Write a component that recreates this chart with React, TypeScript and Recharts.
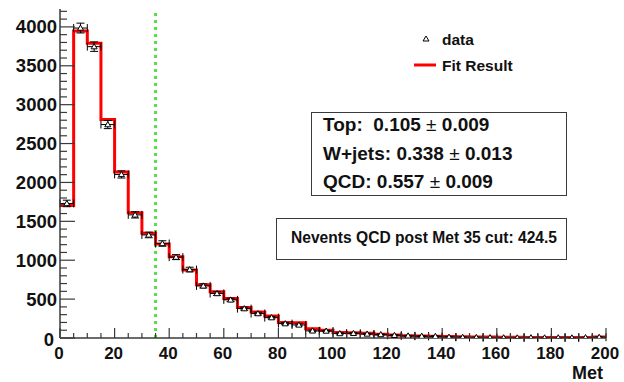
import {
  ComposedChart,
  Line,
  Scatter,
  ErrorBar,
  XAxis,
  YAxis,
  ReferenceLine,
} from 'recharts'

// Met histogram, 40 bins of width 5 from 0 to 200
const BIN_WIDTH = 5
const FIT = [
  1703, 3948, 3789, 2809, 2133, 1609, 1346, 1209, 1045, 873,
  685, 594, 507, 391, 335, 284, 198, 195, 120, 99,
  70, 68, 62, 48, 38, 30, 27, 24, 18, 16,
  14, 12, 10, 9, 8, 7, 6, 6, 5, 14,
]
const DATA = [
  1730, 3985, 3746, 2744, 2103, 1583, 1325, 1215, 1040, 880,
  670, 572, 490, 378, 314, 262, 185, 168, 92, 90,
  58, 60, 52, 45, 35, 28, 24, 22, 12, 10,
  8, 6, 4, 3, 5, 3, 4, 3, 6, 10,
]
const DATA_ERR = [
  42, 63, 61, 52, 46, 40, 36, 35, 32, 30,
  26, 24, 22, 19, 18, 16, 14, 13, 10, 9,
  8, 8, 7, 7, 6, 5, 5, 5, 3, 3,
  3, 2, 2, 2, 2, 2, 2, 2, 2, 3,
]
const Y_MAJOR = [0, 500, 1000, 1500, 2000, 2500, 3000, 3500, 4000]
const X_MAJOR = [0, 20, 40, 60, 80, 100, 120, 140, 160, 180, 200]
const Y_MAX = 4230
const CUT = 35

const FIT_LINES = [
  { name: 'Top:  ', value: '0.105', err: '0.009' },
  { name: 'W+jets: ', value: '0.338', err: '0.013' },
  { name: 'QCD: ', value: '0.557', err: '0.009' },
]
const NEVENTS_TEXT = 'Nevents QCD post Met 35 cut: 424.5'

const FONT = '"Liberation Sans", Arial, Helvetica, sans-serif'
const FRAME = '#3a3a3a'

const edges = FIT.map((v, i) => ({ x: i * BIN_WIDTH, fit: v }))
edges.push({ x: FIT.length * BIN_WIDTH, fit: FIT[FIT.length - 1] })

const points = DATA.map((v, i) => ({
  x: i * BIN_WIDTH + BIN_WIDTH / 2,
  y: v,
  ey: DATA_ERR[i],
  ex: BIN_WIDTH / 2,
}))

const yTicks: number[] = []
for (let v = 0; v <= 4200; v += 100) yTicks.push(v)
const xTicks: number[] = []
for (let v = 0; v <= 200; v += 5) xTicks.push(v)

function YTick(props: any) {
  const { x, y, payload } = props
  const major = Y_MAJOR.includes(payload.value)
  const zero = payload.value === 0
  return (
    <g>
      <line x1={x} y1={y} x2={x + (major ? 15 : 7)} y2={y} stroke={FRAME} strokeWidth={1.2} />
      {major && (
        <text
          x={zero ? x - 6 : x - 3}
          y={zero ? y + 1 : y}
          textAnchor="end"
          dominantBaseline="central"
          fontFamily={FONT}
          fontWeight="bold"
          fontSize={18.5}
          fill="#111"
        >
          {payload.value}
        </text>
      )}
    </g>
  )
}

function XTick(props: any) {
  const { x, y, payload } = props
  const major = X_MAJOR.includes(payload.value)
  return (
    <g>
      <line x1={x} y1={y} x2={x} y2={y - (major ? 10 : 5)} stroke={FRAME} strokeWidth={1.2} />
      {major && (
        <text
          x={x - 1}
          y={y + 15}
          textAnchor="middle"
          dominantBaseline="central"
          fontFamily={FONT}
          fontWeight="bold"
          fontSize={17}
          fill="#111"
        >
          {payload.value}
        </text>
      )}
    </g>
  )
}

function Triangle(props: any) {
  const { cx, cy } = props
  if (cx == null || cy == null) return null
  return (
    <polygon
      points={`${cx},${cy - 3} ${cx - 3},${cy + 2.2} ${cx + 3},${cy + 2.2}`}
      fill="#fff"
      stroke="#000"
      strokeWidth={1}
    />
  )
}

const textStyle: React.CSSProperties = {
  position: 'absolute',
  fontFamily: FONT,
  fontWeight: 'bold',
  color: '#111',
  whiteSpace: 'pre',
  lineHeight: 1,
}

export default function App() {
  return (
    <div style={{ position: 'absolute', left: 0, top: 0, width: 624, height: 382, background: '#fff' }}>
      <ComposedChart width={624} height={382} margin={{ top: 9, right: 18, bottom: 0, left: 0 }}>
        <XAxis
          dataKey="x"
          type="number"
          domain={[0, 200]}
          ticks={xTicks}
          interval={0}
          height={44}
          tickSize={0}
          tickMargin={0}
          tickLine={false}
          tick={<XTick />}
          axisLine={{ stroke: FRAME, strokeWidth: 1.5 }}
          allowDataOverflow
        />
        <XAxis xAxisId="top" orientation="top" type="number" domain={[0, 200]} height={0} tick={false} tickLine={false} axisLine={{ stroke: FRAME, strokeWidth: 1.5 }} />
        <YAxis
          type="number"
          domain={[0, Y_MAX]}
          ticks={yTicks}
          interval={0}
          width={60}
          tickSize={0}
          tickMargin={0}
          tickLine={false}
          tick={<YTick />}
          axisLine={{ stroke: FRAME, strokeWidth: 1.5 }}
          allowDataOverflow
        />
        <YAxis yAxisId="right" orientation="right" type="number" domain={[0, Y_MAX]} width={0} tick={false} tickLine={false} axisLine={{ stroke: FRAME, strokeWidth: 1.5 }} />
        <ReferenceLine x={CUT} stroke="#5cdb4c" strokeWidth={3} strokeDasharray="3 4" />
        <Line
          data={edges}
          dataKey="fit"
          type="stepAfter"
          stroke="#ff0000"
          strokeWidth={3}
          dot={false}
          activeDot={false}
          isAnimationActive={false}
        />
        <Scatter data={points} dataKey="y" shape={<Triangle />} isAnimationActive={false}>
          <ErrorBar dataKey="ey" direction="y" width={4} stroke="#000" strokeWidth={1} />
          <ErrorBar dataKey="ex" direction="x" width={4} stroke="#000" strokeWidth={1} />
        </Scatter>
      </ComposedChart>

      <span style={{ ...textStyle, left: 572, top: 364, fontSize: 18 }}>Met</span>

      {/* legend */}
      <svg style={{ position: 'absolute', left: 410, top: 32 }} width={30} height={40}>
        <polygon points="16,4 13,9 19,9" fill="#fff" stroke="#000" strokeWidth={1} />
        <line x1={4} y1={33} x2={26} y2={33} stroke="#ff0000" strokeWidth={3} />
      </svg>
      <span style={{ ...textStyle, left: 442, top: 32, fontSize: 15.5 }}>data</span>
      <span style={{ ...textStyle, left: 442, top: 58, fontSize: 15.5 }}>Fit Result</span>

      {/* fit fractions */}
      <div
        style={{
          position: 'absolute',
          left: 311,
          top: 112,
          width: 256,
          height: 84,
          boxSizing: 'border-box',
          border: `1.5px solid ${FRAME}`,
        }}
      />
      {FIT_LINES.map((l, i) => (
        <span key={l.name} style={{ ...textStyle, left: 323, top: 115 + i * 28.5, fontSize: 19 }}>
          {l.name}
          {l.value}
          <span style={{ fontWeight: 'normal' }}> ± </span>
          {l.err}
        </span>
      ))}

      {/* nevents */}
      <div
        style={{
          position: 'absolute',
          left: 276,
          top: 218,
          width: 291,
          height: 42,
          boxSizing: 'border-box',
          border: `1.5px solid ${FRAME}`,
        }}
      />
      <span style={{ ...textStyle, left: 291, top: 230, fontSize: 15.6 }}>{NEVENTS_TEXT}</span>
    </div>
  )
}
